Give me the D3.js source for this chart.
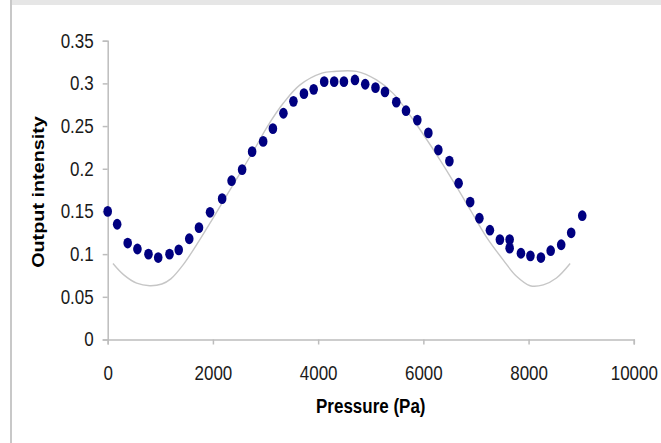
<!DOCTYPE html>
<html lang="en">
<head>
    <meta charset="UTF-8">
    <title>Output intensity vs pressure</title>
    <script src="https://cdn.jsdelivr.net/npm/d3@7"></script>
    <style>
        body { margin: 0; background: #fff; }
        svg text { font-family: Arial, "Liberation Sans", sans-serif; }
    </style>
</head>
<body>
    <div id="chart"></div>

    <script>
// measured points
const pressure = [0, 180, 380, 565, 775, 960, 1175, 1350, 1550, 1735,
    1945, 2175, 2355, 2555, 2745, 2955, 3140, 3340, 3530, 3730,
    3915, 4115, 4305, 4490, 4700, 4895, 5090, 5270, 5485, 5670,
    5885, 6095, 6285, 6495, 6670, 6890, 7065, 7265, 7455, 7640,
    7640, 7855, 8035, 8235, 8420, 8620, 8810, 9020];
const intensity = [0.150, 0.135, 0.113, 0.106, 0.100, 0.096, 0.100, 0.105, 0.118, 0.131,
    0.149, 0.165, 0.186, 0.199, 0.220, 0.232, 0.247, 0.265, 0.279, 0.288,
    0.293, 0.302, 0.302, 0.302, 0.304, 0.299, 0.295, 0.290, 0.278, 0.268,
    0.257, 0.242, 0.222, 0.209, 0.183, 0.161, 0.142, 0.128, 0.117, 0.117,
    0.107, 0.101, 0.098, 0.096, 0.104, 0.111, 0.125, 0.145];

// gray reference curve
const curvePressure = [100, 300, 550, 800, 1030, 1200, 1440, 1700, 2000, 2400,
    2800, 3020, 3340, 3650, 4070, 4300, 4730, 5110, 5430, 5800,
    6300, 6630, 6890, 7200, 7520, 7770, 8030, 8280, 8530, 8790];
const curveIntensity = [0.089, 0.076, 0.066, 0.063, 0.065, 0.071, 0.088, 0.112, 0.142, 0.183,
    0.224, 0.248, 0.277, 0.298, 0.312, 0.314, 0.314, 0.304, 0.288, 0.258,
    0.212, 0.179, 0.152, 0.120, 0.093, 0.074, 0.063, 0.064, 0.072, 0.089];

const xTicks = [0, 2000, 4000, 6000, 8000, 10000];
const yTicks = [0, 0.05, 0.1, 0.15, 0.2, 0.25, 0.3, 0.35];

const width = 661, height = 443;
const stretch = 1.15; // text in the picture is a bit taller than wide

const svg = d3.select("#chart").append("svg")
    .attr("width", width)
    .attr("height", height);

// frame bits at the top and left edge
svg.append("rect")
    .attr("x", 10).attr("y", 0)
    .attr("width", width - 10).attr("height", 5)
    .attr("fill", "#e6e6e6");
svg.append("line")
    .attr("x1", 11).attr("x2", 11)
    .attr("y1", 0).attr("y2", height)
    .attr("stroke", "#c8c8c8")
    .attr("stroke-width", 2);

const xScale = d3.scaleLinear().domain([0, 10000]).range([107.7, 633.8]);
const yScale = d3.scaleLinear().domain([0, 0.35]).range([339.5, 40.7]);

// axes
const xAxis = svg.append("g")
    .attr("transform", `translate(0, ${yScale(0)})`)
    .call(d3.axisBottom(xScale).tickValues(xTicks).tickSize(5).tickFormat(d3.format("d")));
xAxis.selectAll("text")
    .attr("y", (380 - yScale(0)) / stretch)
    .attr("dy", 0)
    .attr("transform", `scale(1, ${stretch})`);

const yAxis = svg.append("g")
    .attr("transform", `translate(${xScale(0)}, 0)`)
    .call(d3.axisLeft(yScale).tickValues(yTicks).tickSize(5).tickPadding(9)
        .tickFormat(d => String(+d.toFixed(2))));
yAxis.selectAll("text")
    .attr("dy", "0.33em")
    .attr("transform", `scale(1, ${stretch})`);

[xAxis, yAxis].forEach(ax => {
    ax.select(".domain").attr("stroke", "#bdbdbd").attr("stroke-width", 1.5);
    ax.selectAll(".tick line").attr("stroke", "#bdbdbd").attr("stroke-width", 1.5);
    ax.selectAll("text")
        .attr("fill", "#1a1a1a")
        .style("font-size", "17px");
});

// axis titles
svg.append("text")
    .attr("transform", `translate(${(xScale(0) + xScale(10000)) / 2}, 413) scale(1, ${stretch})`)
    .attr("text-anchor", "middle")
    .style("font-size", "17px")
    .style("font-weight", "bold")
    .text("Pressure (Pa)");

svg.append("text")
    .attr("transform", `translate(44, 192) rotate(-90) scale(1.2, 1)`)
    .attr("text-anchor", "middle")
    .style("font-size", "16.5px")
    .style("font-weight", "bold")
    .text("Output intensity");

// gray curve
const curveData = curvePressure.map((p, i) => ({ p: p, v: curveIntensity[i] }));
svg.append("path")
    .datum(curveData)
    .attr("fill", "none")
    .attr("stroke", "#c6c6c6")
    .attr("stroke-width", 1.4)
    .attr("d", d3.line()
        .x(d => xScale(d.p))
        .y(d => yScale(d.v))
        .curve(d3.curveCatmullRom));

// measured points
const pts = pressure.map((p, i) => ({ p: p, v: intensity[i] }));
svg.selectAll("ellipse.pt")
    .data(pts)
    .enter()
    .append("ellipse")
    .attr("class", "pt")
    .attr("cx", d => xScale(d.p))
    .attr("cy", d => yScale(d.v))
    .attr("rx", 4.3)
    .attr("ry", 5.4)
    .attr("fill", "#000080");
</script>
</body>
</html>
